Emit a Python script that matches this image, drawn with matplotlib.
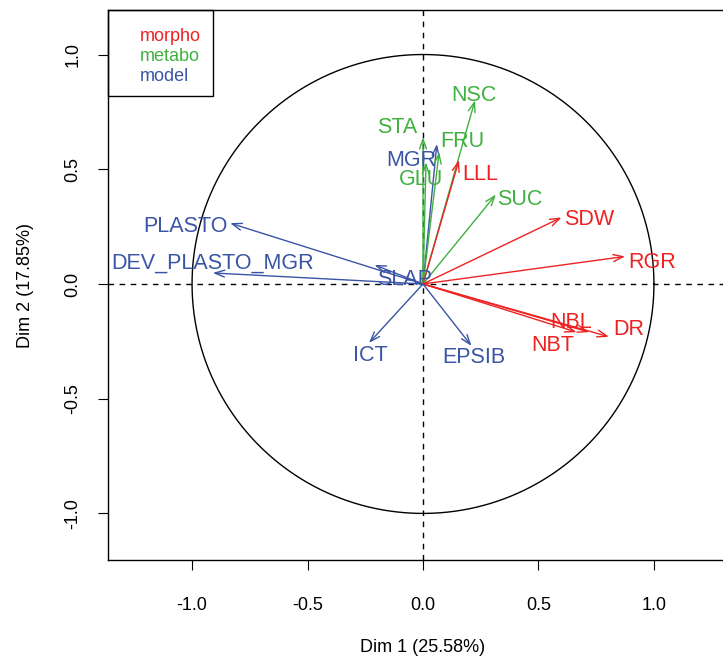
import matplotlib.pyplot as plt
import numpy as np

plt.rcParams['font.family'] = ['Liberation Sans', 'DejaVu Sans']

# variable coordinates (Dim 1, Dim 2) and groups
names = ["NSC", "STA", "MGR", "FRU", "GLU", "LLL", "SUC", "SDW", "RGR", "DR", "NBL", "NBT",
         "PLASTO", "DEV_PLASTO_MGR", "SLAP", "ICT", "EPSIB"]
dim1 = [0.225, 0.00, 0.06, 0.07, 0.013, 0.156, 0.316, 0.60, 0.875, 0.805, 0.72, 0.665,
        -0.835, -0.91, -0.21, -0.234, 0.21]
dim2 = [0.80, 0.64, 0.61, 0.575, 0.53, 0.54, 0.39, 0.29, 0.12, -0.23, -0.21, -0.21,
        0.265, 0.048, 0.083, -0.257, -0.27]
groups = ["metabo", "metabo", "model", "metabo", "metabo", "morpho", "metabo", "morpho", "morpho",
          "morpho", "morpho", "morpho", "model", "model", "model", "model", "model"]
# label positions
lab_x = [0.22, -0.11, -0.05, 0.17, -0.01, 0.25, 0.42, 0.72, 0.99, 0.89, 0.64, 0.56,
         -1.03, -0.91, -0.08, -0.23, 0.22]
lab_y = [0.82, 0.68, 0.54, 0.62, 0.455, 0.475, 0.37, 0.28, 0.095, -0.20, -0.17, -0.27,
         0.25, 0.09, 0.02, -0.31, -0.32]

colors = {"morpho": "#EE2222", "metabo": "#40B040", "model": "#3A55A5"}

fig = plt.figure(figsize=(7.23, 6.62), dpi=100)
W, H = 723, 662
ax = fig.add_axes([108 / W, (H - 560) / H, (738 - 108) / W, 550 / H])
ax.set_xlim(-1.364, 1.364)
ax.set_ylim(-1.203, 1.194)

t = np.linspace(0, 2 * np.pi, 400)
ax.plot(np.cos(t), np.sin(t), color="black", lw=1)
ax.axhline(0, color="black", lw=1, ls=(0, (4, 4)))
ax.axvline(0, color="black", lw=1, ls=(0, (4, 4)))

for n, x, y, g, lx, ly in zip(names, dim1, dim2, groups, lab_x, lab_y):
    c = colors[g]
    ax.annotate("", xy=(x, y), xytext=(0, 0),
                arrowprops=dict(arrowstyle="->,head_length=0.7,head_width=0.25", color=c, lw=1,
                                shrinkA=0, shrinkB=0))
    ax.text(lx, ly, n, color=c, fontsize=15.5, ha="center", va="center")

# legend box
ax.add_patch(plt.Rectangle((-1.364, 0.82), 0.455, 0.374, fill=False, lw=1, color="black",
                           clip_on=False))
for i, g in enumerate(["morpho", "metabo", "model"]):
    ax.text(-1.225, 1.08 - i * 0.087, g, color=colors[g], fontsize=13, ha="left", va="center")

ax.set_xticks([-1.0, -0.5, 0.0, 0.5, 1.0])
ax.set_xticklabels(["-1.0", "-0.5", "0.0", "0.5", "1.0"])
ax.set_yticks([-1.0, -0.5, 0.0, 0.5, 1.0])
ax.set_yticklabels(["-1.0", "-0.5", "0.0", "0.5", "1.0"], rotation=90, va="center")
ax.tick_params(labelsize=13, length=7)
ax.tick_params(axis="x", pad=20)
ax.tick_params(axis="y", pad=12)
ax.set_xlabel("Dim 1 (25.58%)", fontsize=13, labelpad=18)
ax.set_ylabel("Dim 2 (17.85%)", fontsize=13, labelpad=22)
for s in ax.spines.values():
    s.set_linewidth(1)

plt.savefig("out.png", dpi=100)
